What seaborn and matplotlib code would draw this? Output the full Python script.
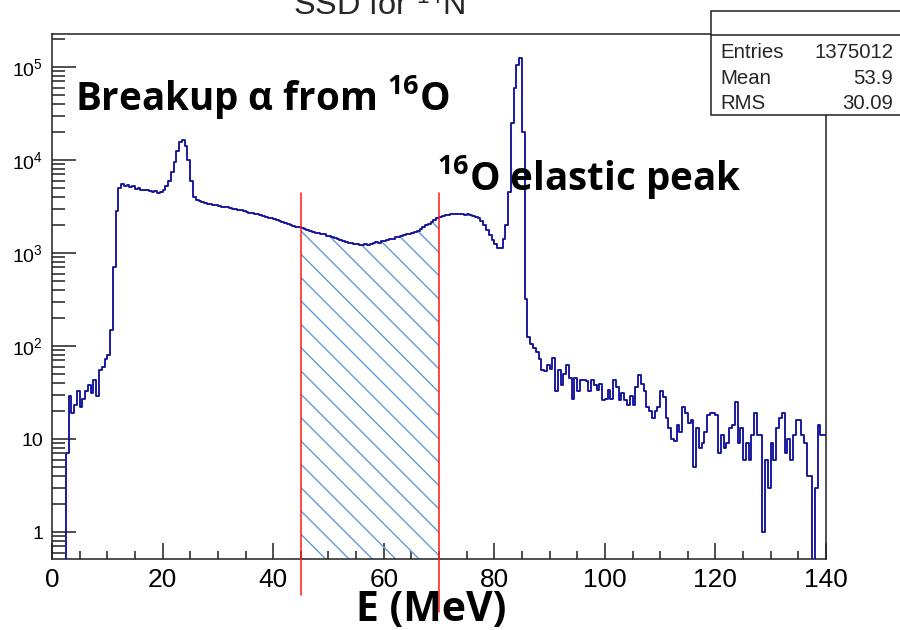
import numpy as np
import pandas as pd
import seaborn as sns
import matplotlib
matplotlib.use("Agg")
import matplotlib.pyplot as plt
import matplotlib.ticker as ticker
from matplotlib.patches import Rectangle
from matplotlib.lines import Line2D

# energy spectrum, 0.5 MeV bins from 0 to 140 MeV
e_min, e_max, bin_width = 0.0, 140.0, 0.5

counts = [
    0, 0, 0, 0, 0, 7, 29, 19, 23, 33,                                   # 0-5
    22, 27, 33, 38, 31, 43, 29, 55, 60, 72,                             # 5-10
    80, 150, 700, 2800, 5000, 5500, 5300, 5400, 5100, 5200,             # 10-15
    4900, 5000, 4800, 4700, 4750, 4600, 4500, 4650, 4450, 4550,         # 15-20
    4800, 5300, 6000, 7500, 9500, 12500, 15500, 16200, 14000, 10000,    # 20-25
    6000, 4000, 3700, 3600, 3500, 3450, 3350, 3380, 3280, 3250,         # 25-30
    3200, 3150, 3100, 3120, 3030, 2980, 2950, 2900, 2870, 2820,         # 30-35
    2780, 2720, 2700, 2640, 2600, 2560, 2500, 2460, 2400, 2380,         # 35-40
    2320, 2280, 2200, 2150, 2100, 2060, 1990, 1950, 1900, 1880,         # 40-45
    1840, 1810, 1780, 1730, 1700, 1660, 1640, 1600, 1580, 1540,         # 45-50
    1520, 1480, 1440, 1410, 1380, 1340, 1310, 1290, 1270, 1250,         # 50-55
    1240, 1230, 1220, 1250, 1230, 1260, 1280, 1300, 1290, 1330,         # 55-60
    1350, 1380, 1400, 1430, 1470, 1490, 1520, 1550, 1580, 1600,         # 60-65
    1640, 1680, 1740, 1820, 1900, 1980, 2060, 2150, 2260, 2350,         # 65-70
    2420, 2480, 2530, 2580, 2600, 2620, 2650, 2610, 2640, 2590,         # 70-75
    2600, 2560, 2500, 2450, 2350, 2200, 2000, 1750, 1550, 1380,         # 75-80
    1250, 1130, 1120, 1400, 2000, 4500, 25000, 60000, 105000, 125000,   # 80-85
    20000, 320, 125, 105, 94, 87, 72, 55, 54, 62,                       # 85-90
    56, 74, 33, 55, 38, 50, 62, 45, 27, 45,                             # 90-95
    33, 43, 43, 42, 33, 43, 38, 34, 39, 26,                             # 95-100
    27, 34, 27, 43, 36, 26, 31, 26, 23, 29,                             # 100-105
    23, 36, 49, 39, 33, 22, 20, 17, 20, 22,                             # 105-110
    33, 28, 17, 13, 10, 9.5, 14, 12, 22, 19,                            # 110-115
    15, 16, 5, 13, 8, 9, 12, 18, 19, 19,                                # 115-120
    18, 7, 11, 8, 9, 13, 14, 25, 9, 13,                                 # 120-125
    6, 9, 6, 11, 19, 11, 11, 1, 6, 3,                                   # 125-130
    9, 6, 13, 17, 19, 7, 10, 6, 11, 16,                                 # 130-135
    16, 11, 9, 4, 4, 0, 3, 14, 11, 11,                                  # 135-140
]

cut_lo, cut_hi = 45, 70
x_ticks = [0, 20, 40, 60, 80, 100, 120, 140]
y_ticks = [1, 10, 1e2, 1e3, 1e4, 1e5]
y_tick_labels = ["1", "10", "10$^{2}$", "10$^{3}$", "10$^{4}$", "10$^{5}$"]
stats_names = ["Entries", "Mean", "RMS"]
stats_values = ["1375012", "53.9", "30.09"]

edges = np.arange(e_min, e_max + bin_width / 2, bin_width)
centers = edges[:-1] + bin_width / 2
df = pd.DataFrame({"E": centers, "n": counts})

sns.set_theme(style="white")
plt.rcParams["font.family"] = ["Liberation Sans", "DejaVu Sans"]
plt.rcParams["mathtext.default"] = "regular"
plt.rcParams["hatch.linewidth"] = 0.7

W, H, DPI = 900, 630, 140
fig = plt.figure(figsize=(W / DPI, H / DPI), dpi=DPI)
ax = fig.add_axes([52 / W, 1 - 559 / H, 774 / W, 525 / H])
ax.set_yscale("log")

y_lo, y_hi = 0.513, 2.26e5

# hatched cut window under the spectrum
cnt = np.array(counts, dtype=float)
idx = np.where((edges[:-1] >= cut_lo) & (edges[:-1] < cut_hi))[0]
xf = np.append(edges[idx], cut_hi)
yf = np.append(cnt[idx], cnt[idx[-1]])
ax.fill_between(xf, y_lo, yf, step="post", facecolor="none",
                edgecolor="#5b9bd8", linewidth=0, hatch="\\\\", zorder=1)

sns.histplot(data=df, x="E", weights="n", bins=list(edges), element="step",
             fill=False, color="#10109a", linewidth=0.95, ax=ax, zorder=3)

ax.axvline(cut_lo, ymin=-0.069, ymax=0.697, color="#ff1a1a", lw=0.8, clip_on=False, zorder=4)
ax.axvline(cut_hi, ymin=-0.101, ymax=0.697, color="#ff1a1a", lw=0.8, clip_on=False, zorder=4)

ax.set_xlim(e_min, e_max)
ax.set_ylim(y_lo, y_hi)
ax.set_xlabel("")
ax.set_ylabel("")

ax.set_xticks(x_ticks)
ax.set_xticklabels([str(v) for v in x_ticks])
ax.xaxis.set_minor_locator(ticker.MultipleLocator(5))
ax.set_yticks(y_ticks)
ax.set_yticklabels(y_tick_labels)
ax.yaxis.set_minor_locator(ticker.LogLocator(base=10, subs=np.arange(2, 10), numticks=20))
ax.yaxis.set_minor_formatter(ticker.NullFormatter())

ax.tick_params(axis="both", which="both", direction="in", top=False, right=False,
               bottom=True, left=True, color="#222222", labelcolor="black", width=0.8)
ax.tick_params(axis="y", which="major", length=12.3, pad=4.6, labelsize=10)
ax.tick_params(axis="y", which="minor", length=6.7)
ax.tick_params(axis="x", which="major", length=8.2, pad=4.6, labelsize=13.5)
ax.tick_params(axis="x", which="minor", length=4.1)
for s in ax.spines.values():
    s.set_visible(True)
    s.set_color("#222222")
    s.set_linewidth(0.8)

bold = dict(fontfamily=["Open Sans", "DejaVu Sans"], fontweight="bold", color="black")
fig.text(293 / W, 1 - 15 / H, "SSD for $^{14}$N", fontsize=16.7, va="baseline", ha="left")
fig.text(75 / W, 1 - 110 / H, "Breakup α from $^{16}$O", fontsize=19.8, va="baseline", ha="left", **bold)
fig.text(437 / W, 1 - 190 / H, "$^{16}$O elastic peak", fontsize=19.8, va="baseline", ha="left", **bold)
fig.text(431 / W, 1 - 621 / H, "E (MeV)", fontsize=21, va="baseline", ha="center", **bold)

# ROOT-like stats box
fig.add_artist(Rectangle((711 / W, 1 - 115 / H), (905 - 711) / W, (115 - 11) / H,
                         transform=fig.transFigure, facecolor="white",
                         edgecolor="#222222", lw=0.8, zorder=10))
fig.add_artist(Line2D([711 / W, 1.0], [1 - 35 / H, 1 - 35 / H], transform=fig.transFigure,
                      color="#222222", lw=0.8, zorder=11))
for row, (name, val) in enumerate(zip(stats_names, stats_values)):
    yb = 1 - (58 + 25.5 * row) / H
    fig.text(720 / W, yb, name, fontsize=10.5, va="baseline", ha="left", zorder=12)
    fig.text(893 / W, yb, val, fontsize=10.5, va="baseline", ha="right", zorder=12)

fig.savefig("out.png", dpi=DPI)
